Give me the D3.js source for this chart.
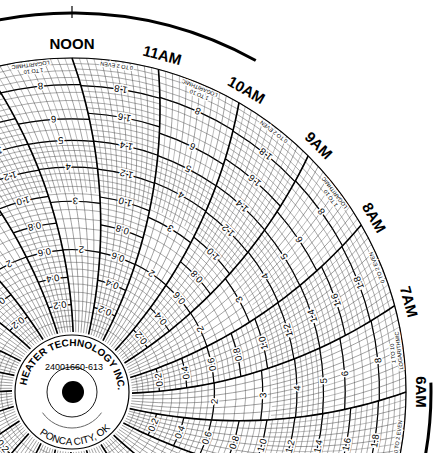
<!DOCTYPE html>
<html><head><meta charset="utf-8">
<script src="https://cdn.jsdelivr.net/npm/d3@7"></script>
<style>body{margin:0;background:#fff}svg{display:block}</style>
</head><body>
<svg id="chart" width="441" height="453"></svg>
<script>
// chart paper data
var hourLabels = ["MIDNIGHT","1AM","2AM","3AM","4AM","5AM","6AM","7AM","8AM","9AM","10AM","11AM",
                  "NOON","1PM","2PM","3PM","4PM","5PM","6PM","7PM","8PM","9PM","10PM","11PM"];
var evenLabels = [0.2,0.4,0.6,0.8,1.0,1.2,1.4,1.6,1.8];
var logLabels = [2,3,4,5,6,8];
var evenMinor = d3.range(0.04, 2.001, 0.04);
var logMinor = [1.1,1.2,1.3,1.4,1.5,1.6,1.7,1.8,1.9,2,2.2,2.4,2.6,2.8,3,3.2,3.4,3.6,3.8,4,4.2,4.4,4.6,4.8,5,5.5,6,6.5,7,7.5,8,8.5,9,9.5,10];
var hubText = {maker:"HEATER TECHNOLOGY INC.", part:"24001660-613", city:"PONCA CITY, OK"};

var cx = 72, cy = 392, R = 334, r0 = 60, L = 500;
var deg = Math.PI/180;
var svg = d3.select("#chart");
var g = svg.append("g");

var evenScale = d3.scaleLinear().domain([0,2]).range([r0,R]);
var logScale = d3.scaleLog().domain([1,10]).range([r0,R]);

// outer angle of a time (hours), svg radians
function theta(t){ return (-90 + (12 - t)*15)*deg; }
// angle of the curved time line at radius r
function angAt(t, r){ return theta(t) + Math.acos(r/(2*L)) - Math.acos(R/(2*L)); }
function pt(a, r){ return [cx + r*Math.cos(a), cy + r*Math.sin(a)]; }

var curve = d3.line();
function timeLine(t, ra, rb){
  var pts = d3.range(0, 31).map(i => { var r = ra + (rb-ra)*i/30; return pt(angAt(t,r), r); });
  return curve(pts);
}
function sectorArc(h, r){
  var p = d3.path();
  p.arc(cx, cy, r, angAt(h+1, r), angAt(h, r));
  return p.toString();
}

// concentric arcs per hour sector
d3.range(0,24).forEach(function(h){
  var isEven = h % 2 === 1;
  var sc = isEven ? evenScale : logScale;
  var minor = isEven ? evenMinor : logMinor;
  var major = isEven ? evenLabels : logLabels;
  g.selectAll(null).data(minor).join("path")
    .attr("d", v => sectorArc(h, sc(v)))
    .attr("fill","none").attr("stroke","#444").attr("stroke-width",0.45);
  g.selectAll(null).data(major).join("path")
    .attr("d", v => sectorArc(h, sc(v)))
    .attr("fill","none").attr("stroke","#000").attr("stroke-width",1.2);
});

// minute lines
var tens = d3.range(0, 24, 1/6);
g.selectAll(null).data(tens).join("path")
  .attr("d", t => timeLine(t, r0, R))
  .attr("fill","none").attr("stroke","#444").attr("stroke-width",0.5);
var fives = d3.range(1/12, 24, 1/6);
g.selectAll(null).data(fives).join("path")
  .attr("d", t => timeLine(t, R*0.6, R))
  .attr("fill","none").attr("stroke","#555").attr("stroke-width",0.4);
// hour lines
g.selectAll(null).data(d3.range(0,24)).join("path")
  .attr("d", t => timeLine(t, r0, R))
  .attr("fill","none").attr("stroke","#000").attr("stroke-width",1.6);

// outer circle
g.append("circle").attr("cx",cx).attr("cy",cy).attr("r",R)
  .attr("fill","none").attr("stroke","#000").attr("stroke-width",1.2);

// scale value labels
function fmt(v){ return d3.format(".1f")(v); }
d3.range(0,24).forEach(function(h){
  var isEven = h % 2 === 1;
  var sc = isEven ? evenScale : logScale;
  var vals = isEven ? evenLabels : logLabels;
  g.selectAll(null).data(vals).join("text")
    .attr("transform", v => { var r = sc(v), a = angAt(h+0.5, r), p = pt(a, r);
      return "translate(" + p + ") rotate(" + (a/deg - 90) + ")"; })
    .attr("text-anchor","middle").attr("dominant-baseline","central")
    .attr("font-family","Liberation Sans, Arial, sans-serif").attr("font-size",9.5)
    .attr("fill","#000").attr("stroke","#fff").attr("stroke-width",3).attr("paint-order","stroke")
    .text(v => isEven ? fmt(v) : String(v));
  // sector titles near the rim
  var titles = isEven ? [["0 TO 2 EVEN", R-5]] : [["LOGARITHMIC", R-4.5], ["1 TO 10", R-11]];
  titles.forEach(function(tt){
    var a = angAt(h+0.5, tt[1]), p = pt(a, tt[1]);
    g.append("text")
      .attr("transform","translate(" + p + ") rotate(" + (a/deg - 90) + ")")
      .attr("text-anchor","middle").attr("dominant-baseline","central")
      .attr("font-family","Liberation Sans, Arial, sans-serif").attr("font-size",5.5)
      .attr("fill","#000").attr("stroke","#fff").attr("stroke-width",2.5).attr("paint-order","stroke")
      .text(tt[0]);
  });
});

// hour labels
g.selectAll(null).data(hourLabels).join("text")
  .attr("transform", (d,i) => { var a = theta(i), p = pt(a, R+15);
    return "translate(" + p + ") rotate(" + (a/deg + 90) + ")"; })
  .attr("text-anchor","middle").attr("dominant-baseline","central")
  .attr("font-family","Liberation Sans, Arial, sans-serif").attr("font-weight","bold")
  .attr("font-size",15).text(d => d);

// thick rim arcs
var topArc = d3.path(); topArc.arc(cx, cy, 379, -118*deg, -61*deg);
g.append("path").attr("d", topArc.toString()).attr("fill","none").attr("stroke","#000").attr("stroke-width",3);
g.append("line").attr("x1",cx).attr("x2",cx).attr("y1",cy-374).attr("y2",cy-386)
  .attr("stroke","#000").attr("stroke-width",1.2);
var rightArc = d3.path(); rightArc.arc(cx, cy, 359, -1.5*deg, 14*deg);
g.append("path").attr("d", rightArc.toString()).attr("fill","none").attr("stroke","#000").attr("stroke-width",3);

// hub
g.append("circle").attr("cx",cx).attr("cy",cy).attr("r",57)
  .attr("fill","#fff").attr("stroke","#000").attr("stroke-width",1.2);
g.append("circle").attr("cx",cx).attr("cy",cy).attr("r",25)
  .attr("fill","none").attr("stroke","#000").attr("stroke-width",0.9);
g.append("circle").attr("cx",cx+1).attr("cy",cy).attr("r",11).attr("fill","#000");
var smile = d3.path(); smile.arc(cx, cy, 36, 35*deg, 145*deg);
g.append("path").attr("d", smile.toString()).attr("fill","none").attr("stroke","#666").attr("stroke-width",1);

var topPath = d3.path(); topPath.arc(cx, cy, 46, 188*deg, 362*deg);
svg.append("defs").append("path").attr("id","hubTop").attr("d", topPath.toString());
var botPath = d3.path(); botPath.arc(cx, cy, 53, 128*deg, 40*deg, true);
svg.select("defs").append("path").attr("id","hubBot").attr("d", botPath.toString());

g.append("text").attr("font-family","Liberation Sans, Arial, sans-serif").attr("font-weight","bold")
  .attr("font-size",10)
  .append("textPath").attr("href","#hubTop").attr("textLength",136).attr("lengthAdjust","spacing")
  .text(hubText.maker);
g.append("text").attr("font-family","Liberation Sans, Arial, sans-serif")
  .attr("font-size",10)
  .append("textPath").attr("href","#hubBot").attr("textLength",78).attr("lengthAdjust","spacing")
  .text(hubText.city);
g.append("text").attr("x",cx+2).attr("y",cy-22).attr("text-anchor","middle")
  .attr("font-family","Liberation Sans, Arial, sans-serif").attr("font-size",9)
  .text(hubText.part);
</script>
</body></html>
